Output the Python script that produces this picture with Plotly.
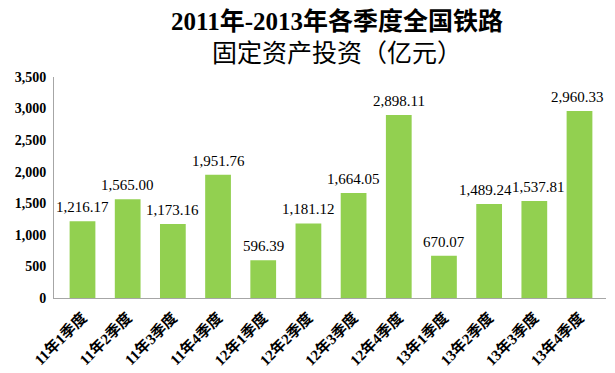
import plotly.graph_objects as go

categories = ["11年1季度", "11年2季度", "11年3季度", "11年4季度",
              "12年1季度", "12年2季度", "12年3季度", "12年4季度",
              "13年1季度", "13年2季度", "13年3季度", "13年4季度"]
values = [1216.17, 1565.00, 1173.16, 1951.76,
          596.39, 1181.12, 1664.05, 2898.11,
          670.07, 1489.24, 1537.81, 2960.33]
y_ticks = [0, 500, 1000, 1500, 2000, 2500, 3000, 3500]

serif = "Liberation Serif, Times New Roman, Noto Sans CJK SC, serif"

# page body has an 8px default margin, so the figure is sized to fill the rest
W, H = 607, 365

fig = go.Figure(go.Bar(
    x=categories, y=values,
    marker=dict(color="#92D050", line=dict(width=0)),
    hoverinfo="x+y",
))

# value labels above bars; nudge the two crowded neighbours apart like the original
nudge = {9: -4, 10: 4, 11: -2}
for i, (c, v) in enumerate(zip(categories, values)):
    fig.add_annotation(
        x=c, y=v, text=f"{v:,.2f}", showarrow=False,
        yanchor="bottom", yshift=4, xshift=nudge.get(i, 0),
        font=dict(family=serif, size=15, color="#000000"),
    )

fig.update_layout(
    width=W, height=H,
    margin=dict(l=46, r=9, t=69, b=75),
    paper_bgcolor="white", plot_bgcolor="white",
    bargap=0.43,
    showlegend=False,
    title=dict(
        text="<b>2011年-2013年各季度全国铁路</b><br>固定资产投资（亿元）",
        font=dict(family=serif, size=25, color="#000000"),
        x=329 / W, xref="container", xanchor="center",
        y=1 - 21.6 / H, yref="container", yanchor="middle",
    ),
    xaxis=dict(
        tickangle=-45, automargin=False,
        tickfont=dict(family=serif, size=15, color="#000000", weight="bold"),
        showline=True, linecolor="#A6A6A6", linewidth=1,
        showgrid=False, ticks="", ticklabelstandoff=4,
    ),
    yaxis=dict(
        range=[0, 3500], tickvals=y_ticks, tickformat=",", automargin=False,
        tickfont=dict(family=serif, size=14, color="#000000", weight="bold"),
        showline=True, linecolor="#A6A6A6", linewidth=1,
        showgrid=False, zeroline=False, ticks="", ticklabelstandoff=4,
    ),
)

fig.write_html("out.html")
